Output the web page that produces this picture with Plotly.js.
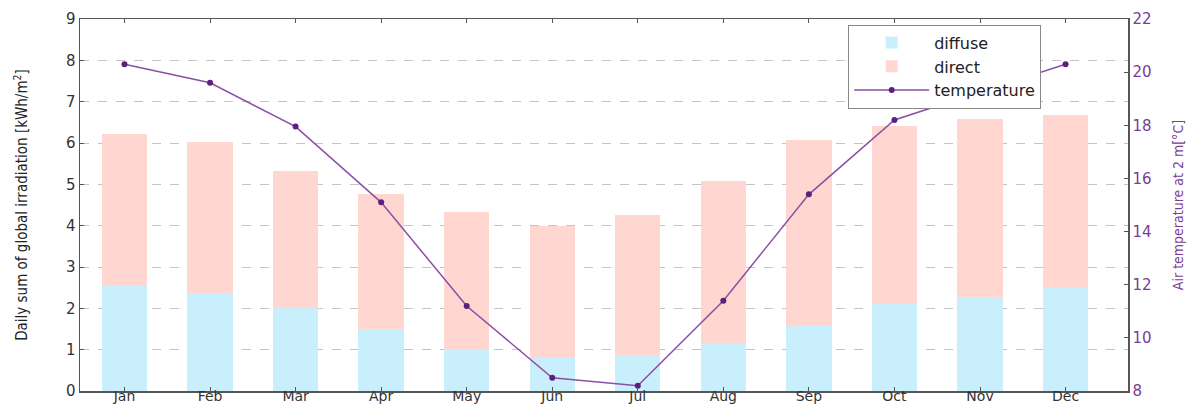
<!DOCTYPE html>
<html>
<head>
<meta charset="utf-8">
<script src="https://cdn.plot.ly/plotly-3.0.1.min.js"></script>
<style>html,body{margin:0;padding:0;background:#fff;}#chart{width:1198px;height:407px;}</style>
</head>
<body>
<div id="chart"></div>
<script>
const months = ["Jan","Feb","Mar","Apr","May","Jun","Jul","Aug","Sep","Oct","Nov","Dec"];
const diffuse = [2.55, 2.36, 2.00, 1.49, 1.00, 0.81, 0.87, 1.16, 1.57, 2.10, 2.27, 2.52];
const direct  = [3.67, 3.66, 3.32, 3.28, 3.34, 3.17, 3.39, 3.92, 4.51, 4.31, 4.30, 4.15];
const temperature = [20.3, 19.6, 17.95, 15.1, 11.2, 8.5, 8.2, 11.4, 15.4, 18.2, 19.25, 20.3];
const leftTicks = [0,1,2,3,4,5,6,7,8,9];
const rightTicks = [8,10,12,14,16,18,20,22];

const xIdx = months.map((m,i)=>i);
const tickFont = {family:"DejaVu Sans, Verdana, sans-serif", size:15, color:"#333"};
const purple = "#7b3c98";
const titleFamily = "Liberation Sans Narrow, DejaVu Sans Condensed, sans-serif";

const traces = [
  {type:"bar", name:"diffuse", x:xIdx, y:diffuse, width:0.53,
   marker:{color:"#c8effb", line:{width:0}}, yaxis:"y"},
  {type:"bar", name:"direct", x:xIdx, y:direct, width:0.53,
   marker:{color:"#ffd6d0", line:{width:0}}, yaxis:"y"},
  {type:"scatter", mode:"lines+markers", name:"temperature", x:xIdx, y:temperature,
   line:{color:"#8a4fa6", width:1.5}, marker:{color:"#5e1f80", size:6}, yaxis:"y2"}
];

const layout = {
  width:1198, height:407,
  margin:{l:80, r:70, t:19, b:16},
  paper_bgcolor:"#fff", plot_bgcolor:"#fff",
  barmode:"stack",
  showlegend:true,
  legend:{x:0.733, y:0.985, xanchor:"left", yanchor:"top", traceorder:"normal",
          bgcolor:"#fff", bordercolor:"#888", borderwidth:1,
          font:{family:"DejaVu Sans, Verdana, sans-serif", size:16, color:"#222"},
          itemwidth:75, tracegroupgap:0},
  xaxis:{range:[-0.52, 11.73], tickmode:"array", tickvals:xIdx, ticktext:months,
         tickfont:{family:"DejaVu Sans, Verdana, sans-serif", size:14, color:"#333"},
         ticks:"inside", ticklen:4, tickcolor:"#555",
         ticklabelstandoff:-8,
         showgrid:false, zeroline:false, showline:true, linecolor:"#555", linewidth:1.5,
         mirror:"ticks", automargin:false},
  yaxis:{range:[0,9], tickmode:"array", tickvals:leftTicks, tickfont:tickFont,
         ticks:"inside", ticklen:4, tickcolor:"#555",
         showgrid:true, gridcolor:"#c4c4c4", griddash:"dash", gridwidth:1,
         zeroline:false, showline:true, linecolor:"#555", linewidth:1.5, automargin:false,
         title:{text:"Daily sum of global irradiation [kWh/m<sup>2</sup>]", standoff:34,
                font:{family:titleFamily, size:15, color:"#222"}}},
  yaxis2:{range:[8,22], overlaying:"y", side:"right", tickmode:"array", tickvals:rightTicks,
          tickfont:{family:"DejaVu Sans, Verdana, sans-serif", size:15, color:purple},
          ticks:"inside", ticklen:4, tickcolor:"#555", showgrid:false, zeroline:false,
          showline:true, linecolor:"#555", linewidth:1.5, automargin:false,
          title:{text:"Air temperature at 2 m[°C]", standoff:22,
                 font:{family:titleFamily, size:14, color:purple}}}
};

Plotly.newPlot("chart", traces, layout, {displayModeBar:false, staticPlot:true});
</script>
</body>
</html>
